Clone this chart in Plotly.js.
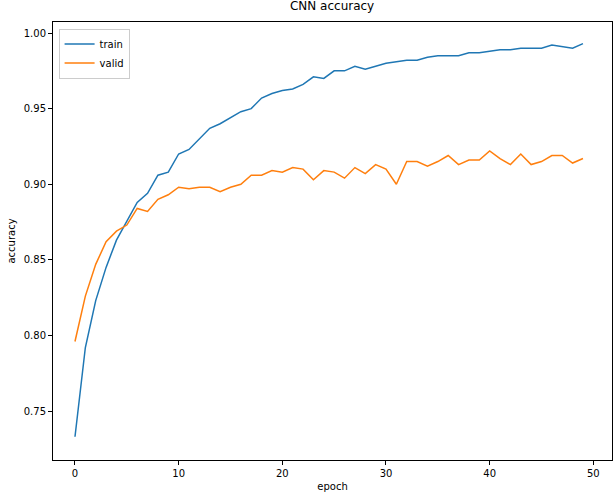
<!DOCTYPE html>
<html><head><script src="https://cdn.plot.ly/plotly-3.0.1.min.js"></script>
<style>body{margin:0}</style></head><body>
<div id="chart" style="width:615px;height:496px"></div>
<script>
var epochs = [];
for (var i = 0; i < 50; i++) epochs.push(i);
var train = [0.733,0.792,0.823,0.845,0.863,0.876,0.888,0.894,0.906,0.908,0.920,0.923,0.930,0.937,0.940,0.944,0.948,0.950,0.957,0.960,0.962,0.963,0.966,0.971,0.970,0.975,0.975,0.978,0.976,0.978,0.980,0.981,0.982,0.982,0.984,0.985,0.985,0.985,0.987,0.987,0.988,0.989,0.989,0.990,0.990,0.990,0.992,0.991,0.990,0.993];
var valid = [0.796,0.826,0.847,0.862,0.869,0.873,0.884,0.882,0.890,0.893,0.898,0.897,0.898,0.898,0.895,0.898,0.900,0.906,0.906,0.909,0.908,0.911,0.910,0.903,0.909,0.908,0.904,0.911,0.907,0.913,0.910,0.900,0.915,0.915,0.912,0.915,0.919,0.913,0.916,0.916,0.922,0.917,0.913,0.920,0.913,0.915,0.919,0.919,0.914,0.917];

var data = [
  {x: epochs, y: train, type: 'scatter', mode: 'lines', name: 'train', line: {color: '#1f77b4', width: 1.5}},
  {x: epochs, y: valid, type: 'scatter', mode: 'lines', name: 'valid', line: {color: '#ff7f0e', width: 1.5}}
];
var ax = {showgrid: false, zeroline: false, showline: true, mirror: true, linecolor: '#000', linewidth: 1,
  ticks: 'outside', ticklen: 4, tickcolor: '#000', tickfont: {size: 10}};
var layout = {
  width: 615, height: 496,
  margin: {l: 53, r: 3, t: 22, b: 36},
  font: {family: 'DejaVu Sans', color: '#000'},
  title: {text: 'CNN accuracy', font: {size: 12}, x: 0.54, xanchor: 'center', y: 0.997, yanchor: 'top'},
  xaxis: Object.assign({}, ax, {range: [-2.12, 51.8], tickvals: [0,10,20,30,40,50], title: {text: 'epoch', font: {size: 10}, standoff: 4}}),
  yaxis: Object.assign({}, ax, {range: [0.7176, 1.0073], tickvals: [0.75,0.80,0.85,0.90,0.95,1.00], tickformat: '.2f', title: {text: 'accuracy', font: {size: 10}, standoff: 6}}),
  showlegend: true,
  legend: {x: 0.01, y: 0.985, xanchor: 'left', yanchor: 'top', bordercolor: '#ccc', borderwidth: 1, font: {size: 10}, bgcolor: 'rgba(255,255,255,0.8)'},
  plot_bgcolor: '#fff', paper_bgcolor: '#fff'
};
Plotly.newPlot('chart', data, layout, {displayModeBar: false});
</script></body></html>
